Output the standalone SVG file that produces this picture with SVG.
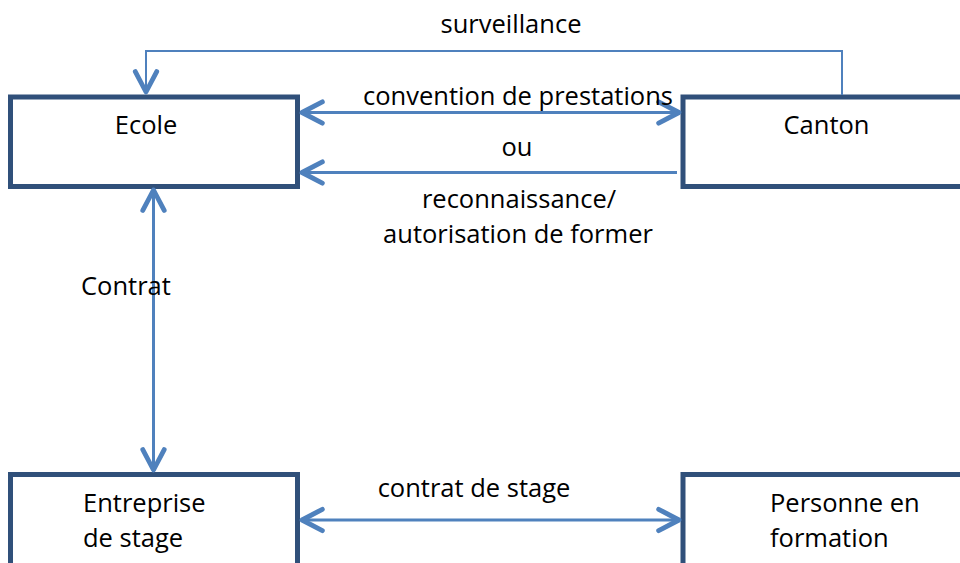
<svg xmlns="http://www.w3.org/2000/svg" width="960" height="563" viewBox="0 0 960 563">
<style>
.box{fill:#fff;stroke:#30507A;stroke-width:5}
.lbl{font-family:"Open Sans","Liberation Sans",sans-serif;font-size:25.5px;fill:#000}
.c{text-anchor:middle}
.ln{fill:none;stroke:#4F81BD;stroke-width:3}
.thin{stroke-width:2}
</style>
<defs>
<marker id="ah" markerUnits="userSpaceOnUse" markerWidth="30" markerHeight="30" viewBox="-24 -14 28 28" refX="0" refY="0" orient="auto-start-reverse">
<path d="M-19,-10 L0,0 L-19,10" fill="none" stroke="#4F81BD" stroke-width="4.5" stroke-linecap="round" stroke-linejoin="round"/>
</marker>
</defs>
<rect width="960" height="563" fill="#fff"/>
<g id="ecole"><rect class="box" x="10.5" y="97" width="287" height="89.5"/><text class="lbl c" x="146" y="134">Ecole</text></g>
<g id="canton"><rect class="box" x="683" y="97" width="290" height="89.5"/><text class="lbl c" x="826.5" y="134">Canton</text></g>
<g id="entreprise"><rect class="box" x="10.5" y="474.5" width="287" height="100"/><text class="lbl" x="83" y="512">Entreprise</text><text class="lbl" x="83" y="547">de stage</text></g>
<g id="personne"><rect class="box" x="683" y="474.5" width="290" height="100"/><text class="lbl" x="770" y="512">Personne en</text><text class="lbl" x="770" y="547">formation</text></g>
<g id="connectors">
<polyline class="ln thin" points="842,95 842,51 146,51 146,92" marker-end="url(#ah)"/>
<line class="ln" x1="302" y1="112.5" x2="679" y2="112.5" marker-start="url(#ah)" marker-end="url(#ah)"/>
<line class="ln" x1="677" y1="172.5" x2="302" y2="172.5" marker-end="url(#ah)"/>
<line class="ln" x1="153.5" y1="190" x2="153.5" y2="470" marker-start="url(#ah)" marker-end="url(#ah)"/>
<line class="ln" x1="302" y1="520" x2="679" y2="520" marker-start="url(#ah)" marker-end="url(#ah)"/>
</g>
<g id="labels">
<text class="lbl c" x="511" y="33">surveillance</text>
<text class="lbl c" x="518" y="105">convention de prestations</text>
<text class="lbl c" x="517" y="156">ou</text>
<text class="lbl c" x="519" y="208">reconnaissance/</text>
<text class="lbl c" x="518" y="243">autorisation de former</text>
<text class="lbl" x="81" y="295">Contrat</text>
<text class="lbl c" x="474" y="497">contrat de stage</text>
</g>
</svg>
